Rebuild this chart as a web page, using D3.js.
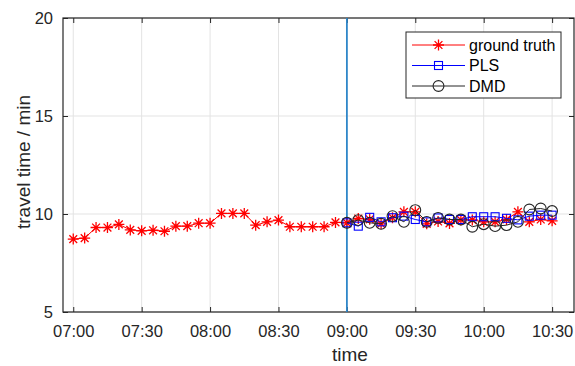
<!DOCTYPE html>
<html>
<head>
<meta charset="utf-8">
<script src="https://cdn.jsdelivr.net/npm/d3@7"></script>
<style>
  body { margin: 0; background: #fff; }
  svg { font-family: "Liberation Sans", Arial, sans-serif; }
</style>
</head>
<body>
<svg id="chart" width="575" height="366"></svg>
<script>
// time stamps, every five minutes
const truthTimes = ["07:00","07:05","07:10","07:15","07:20","07:25","07:30","07:35","07:40","07:45",
  "07:50","07:55","08:00","08:05","08:10","08:15","08:20","08:25","08:30","08:35","08:40","08:45",
  "08:50","08:55","09:00","09:05","09:10","09:15","09:20","09:25","09:30","09:35","09:40","09:45",
  "09:50","09:55","10:00","10:05","10:10","10:15","10:20","10:25","10:30"];
const predTimes = ["09:00","09:05","09:10","09:15","09:20","09:25","09:30","09:35","09:40","09:45",
  "09:50","09:55","10:00","10:05","10:10","10:15","10:20","10:25","10:30"];

const groundTruth = [8.72,8.77,9.31,9.31,9.47,9.19,9.14,9.17,9.12,9.38,9.38,9.53,9.53,10.03,10.03,10.03,
  9.43,9.6,9.69,9.35,9.35,9.35,9.35,9.57,9.55,
  9.77,9.73,9.5,9.81,10.11,10.11,9.5,9.62,9.52,9.7,9.7,9.6,9.6,9.72,10.11,9.6,9.72,9.65];
const pls = [9.55,9.38,9.83,9.6,9.81,9.89,9.72,9.6,9.8,9.72,9.72,9.86,9.86,9.86,9.78,9.7,9.89,9.94,9.94];
const dmd = [9.55,9.69,9.55,9.5,9.89,9.6,10.2,9.6,9.8,9.72,9.72,9.35,9.48,9.38,9.43,9.6,10.23,10.28,10.15];

const xLimits = ["06:55:30","10:39:36"];
const xTicks = ["07:00","07:30","08:00","08:30","09:00","09:30","10:00","10:30"];
const yLimits = [5, 20];
const yTicks = [5, 10, 15, 20];
const splitTime = "09:00";

const seriesNames = ["ground truth","PLS","DMD"];
const seriesColors = ["#ff0000","#0000ff","#262626"];

const parseT = d3.timeParse("%H:%M");
const parseTS = d3.timeParse("%H:%M:%S");

const svg = d3.select("#chart");
const box = {left: 63, top: 18, right: 574, bottom: 312};
const axisColor = "#262626";

let x = d3.scaleTime().domain(xLimits.map(parseTS)).range([box.left, box.right]);
let y = d3.scaleLinear().domain(yLimits).range([box.bottom, box.top]);

// grid
svg.append("g").selectAll("line").data(xTicks).join("line")
  .attr("x1", d => x(parseT(d))).attr("x2", d => x(parseT(d)))
  .attr("y1", box.top).attr("y2", box.bottom)
  .attr("stroke", "#e3e3e3").attr("stroke-width", 1);
svg.append("g").selectAll("line").data(yTicks).join("line")
  .attr("x1", box.left).attr("x2", box.right)
  .attr("y1", d => y(d)).attr("y2", d => y(d))
  .attr("stroke", "#e3e3e3").attr("stroke-width", 1);

// axes with inward ticks
let xAxis = d3.axisBottom(x).tickValues(xTicks.map(parseT))
  .tickFormat(d3.timeFormat("%H:%M")).tickSizeInner(-5).tickSizeOuter(0).tickPadding(13);
let yAxis = d3.axisLeft(y).tickValues(yTicks).tickSizeInner(-5).tickSizeOuter(0).tickPadding(10);
let xTop = d3.axisTop(x).tickValues(xTicks.map(parseT)).tickFormat("").tickSizeInner(-5).tickSizeOuter(0);
let yRight = d3.axisRight(y).tickValues(yTicks).tickFormat("").tickSizeInner(-5).tickSizeOuter(0);

function styleAxis(g){
  g.select(".domain").remove();
  g.selectAll(".tick line").attr("stroke", axisColor);
  g.selectAll(".tick text").attr("fill", axisColor).attr("font-size", 16.5)
    .attr("font-family", "Liberation Sans, Arial, sans-serif");
}
svg.append("g").attr("transform", `translate(0,${box.bottom})`).call(xAxis).call(styleAxis);
svg.append("g").attr("transform", `translate(${box.left},0)`).call(yAxis).call(styleAxis);
svg.append("g").attr("transform", `translate(0,${box.top})`).call(xTop).call(styleAxis);
svg.append("g").attr("transform", `translate(${box.right},0)`).call(yRight).call(styleAxis);

svg.append("rect")
  .attr("x", box.left).attr("y", box.top)
  .attr("width", box.right - box.left).attr("height", box.bottom - box.top)
  .attr("fill", "none").attr("stroke", axisColor).attr("stroke-width", 1.2);

// split line
svg.append("line")
  .attr("x1", x(parseT(splitTime))).attr("x2", x(parseT(splitTime)))
  .attr("y1", box.top).attr("y2", box.bottom)
  .attr("stroke", "#2f87c9").attr("stroke-width", 1.8);

// markers
const starPath = "M-5.5,0H5.5M0,-5.5V5.5M-3.9,-3.9L3.9,3.9M-3.9,3.9L3.9,-3.9";
function drawMarker(g, kind, color){
  if(kind === 0){
    g.append("path").attr("d", starPath).attr("stroke", color).attr("stroke-width", 1.3).attr("fill", "none");
  }else if(kind === 1){
    g.append("rect").attr("x", -4).attr("y", -4).attr("width", 8).attr("height", 8)
      .attr("stroke", color).attr("stroke-width", 1.1).attr("fill", "none");
  }else{
    g.append("circle").attr("r", 5.4).attr("stroke", color).attr("stroke-width", 1.1).attr("fill", "none");
  }
}

const series = [
  {times: truthTimes, values: groundTruth},
  {times: predTimes, values: pls},
  {times: predTimes, values: dmd}
];

let line = d3.line().x(d => x(d[0])).y(d => y(d[1]));
series.forEach((s, k) => {
  let pts = s.times.map((t, i) => [parseT(t), s.values[i]]);
  svg.append("path").datum(pts).attr("d", line)
    .attr("fill", "none").attr("stroke", seriesColors[k]).attr("stroke-width", 1);
  let mk = svg.append("g").selectAll("g").data(pts).join("g")
    .attr("transform", d => `translate(${x(d[0])},${y(d[1])})`);
  mk.each(function(){ drawMarker(d3.select(this), k, seriesColors[k]); });
});

// axis labels
svg.append("text").attr("x", 350).attr("y", 361).attr("text-anchor", "middle")
  .attr("font-size", 19).attr("fill", axisColor).text("time");
svg.append("text").attr("transform", "translate(30,162) rotate(-90)").attr("text-anchor", "middle")
  .attr("font-size", 19).attr("fill", axisColor).text("travel time / min");

// legend
let legend = svg.append("g");
legend.append("rect").attr("x", 406).attr("y", 32).attr("width", 155).attr("height", 66)
  .attr("fill", "#fff").attr("stroke", axisColor).attr("stroke-width", 1);
seriesNames.forEach((name, k) => {
  let ly = 45 + k * 20.5;
  legend.append("line").attr("x1", 412).attr("x2", 465).attr("y1", ly).attr("y2", ly)
    .attr("stroke", seriesColors[k]).attr("stroke-width", 1);
  drawMarker(legend.append("g").attr("transform", `translate(438.5,${ly})`), k, seriesColors[k]);
  legend.append("text").attr("x", 469).attr("y", ly).attr("dy", "0.35em")
    .attr("font-size", 16).attr("fill", "#000").text(name);
});
</script>
</body>
</html>
